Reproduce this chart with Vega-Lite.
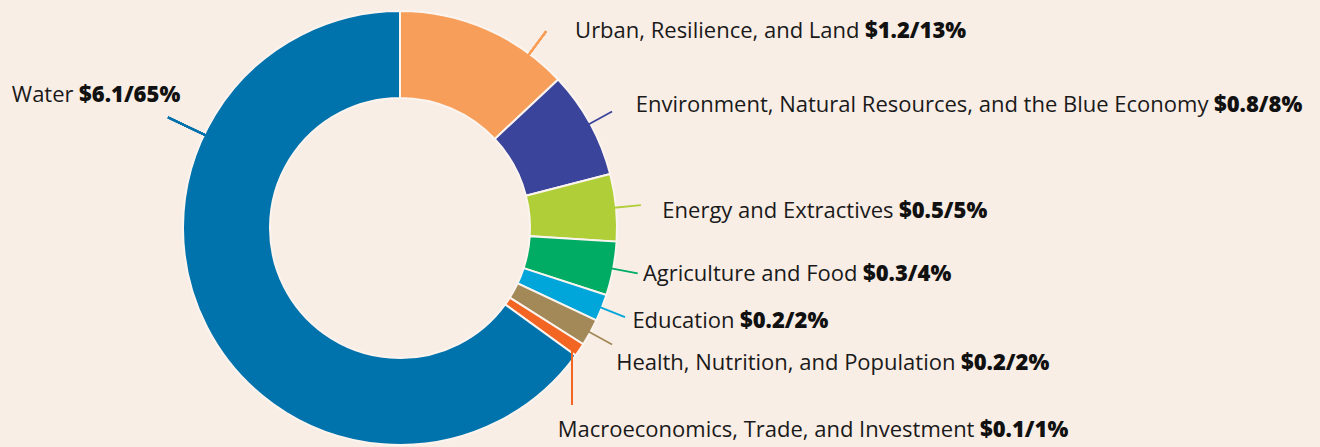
{
  "$schema": "https://vega.github.io/schema/vega-lite/v6.json",
  "width": 800,
  "height": 438,
  "autosize": {"type": "none"},
  "padding": {"left": 0, "top": 9, "right": 520, "bottom": 0},
  "background": "#F9EEE6",
  "config": {"view": {"stroke": null}},
  "data": {
    "values": [
      {"sector": "Urban, Resilience, and Land", "amount": 1.2, "pct": 13},
      {"sector": "Environment, Natural Resources, and the Blue Economy", "amount": 0.8, "pct": 8},
      {"sector": "Energy and Extractives", "amount": 0.5, "pct": 5},
      {"sector": "Agriculture and Food", "amount": 0.3, "pct": 4},
      {"sector": "Education", "amount": 0.2, "pct": 2},
      {"sector": "Health, Nutrition, and Population", "amount": 0.2, "pct": 2},
      {"sector": "Macroeconomics, Trade, and Investment", "amount": 0.1, "pct": 1},
      {"sector": "Water", "amount": 6.1, "pct": 65}
    ]
  },
  "transform": [{"window": [{"op": "row_number", "as": "idx"}]}],
  "layer": [
    {
      "mark": {"type": "arc", "outerRadius": 217, "innerRadius": 130, "stroke": "#FBF4EF", "strokeWidth": 2},
      "encoding": {
        "theta": {"field": "pct", "type": "quantitative", "stack": true, "scale": {"domain": [0, 100]}},
        "order": {"field": "idx", "type": "quantitative"},
        "color": {
          "field": "sector", "type": "nominal", "legend": null,
          "scale": {
            "domain": ["Urban, Resilience, and Land", "Environment, Natural Resources, and the Blue Economy", "Energy and Extractives", "Agriculture and Food", "Education", "Health, Nutrition, and Population", "Macroeconomics, Trade, and Investment", "Water"],
            "range": ["#F79F5A", "#3A449B", "#AFCE38", "#00AB63", "#00A6DA", "#A38958", "#F26522", "#0072AC"]
          }
        }
      }
    },
    {
      "mark": {"type": "arc", "outerRadius": 242, "innerRadius": 215, "padAngle": 3.1, "filled": false, "strokeWidth": 1.8},
      "encoding": {
        "theta": {"field": "pct", "type": "quantitative", "stack": true},
        "order": {"field": "idx", "type": "quantitative"},
        "color": {"field": "sector", "type": "nominal", "legend": null},
        "strokeOpacity": {"condition": {"test": "datum.idx == 1 || datum.idx >= 7", "value": 0}, "value": 1}
      }
    },
    {
      "mark": {"type": "arc", "outerRadius": 245, "innerRadius": 216, "filled": false, "color": "#F79F5A", "strokeWidth": 1.8},
      "encoding": {
        "theta": {"datum": 10.17, "type": "quantitative"},
        "theta2": {"datum": 10.17}
      }
    },
    {
      "mark": {"type": "arc", "outerRadius": 257, "innerRadius": 214, "filled": false, "color": "#0072AC", "strokeWidth": 1.8},
      "encoding": {
        "theta": {"datum": 82.08, "type": "quantitative"},
        "theta2": {"datum": 82.08}
      }
    },
    {
      "transform": [{"filter": "datum.sector == 'Macroeconomics, Trade, and Investment'"}],
      "mark": {"type": "point", "shape": "M172,122V177", "size": 4, "filled": false, "color": "#F26522", "strokeWidth": 2, "opacity": 1},
      "encoding": {}
    },
    {
      "mark": {
        "type": "text", "radius": 217, "align": "right", "baseline": "alphabetic",
        "font": "Open Sans", "fontSize": 22, "color": "#1A1A1A",
        "dx": {"expr": "[0, 378.8, 623.8, 283, 249.8, 138.2, 370.8, 400.5, -127.6][datum.idx] - 5.5"},
        "dy": {"expr": "[0, 8.9, -11.4, 10.1, 12, 20.1, 37.5, 86.7, -224.8][datum.idx]"}
      },
      "encoding": {
        "theta": {"field": "pct", "type": "quantitative", "stack": true},
        "order": {"field": "idx", "type": "quantitative"},
        "text": {"field": "sector", "type": "nominal"}
      }
    },
    {
      "mark": {
        "type": "text", "radius": 217, "align": "left", "baseline": "alphabetic",
        "font": "Open Sans", "fontSize": 22, "fontWeight": 800, "color": "#111111",
        "text": {"expr": "'$' + format(datum.amount, '.1f') + '/' + datum.pct + '%'"},
        "dx": {"expr": "[0, 378.8, 623.8, 283, 249.8, 138.2, 370.8, 400.5, -127.6][datum.idx]"},
        "dy": {"expr": "[0, 8.9, -11.4, 10.1, 12, 20.1, 37.5, 86.7, -224.8][datum.idx]"}
      },
      "encoding": {
        "theta": {"field": "pct", "type": "quantitative", "stack": true},
        "order": {"field": "idx", "type": "quantitative"}
      }
    }
  ]
}
